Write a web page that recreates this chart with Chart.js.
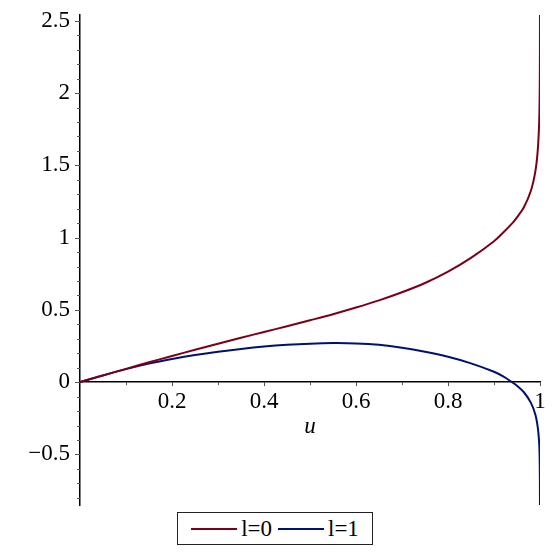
<!DOCTYPE html>
<html><head><meta charset="utf-8">
<script src="https://cdn.jsdelivr.net/npm/chart.js@4/dist/chart.umd.min.js"></script>
<style>
html,body{margin:0;padding:0;background:#fff;}
#wrap{position:relative;width:555px;height:555px;}
#legend{position:absolute;left:177px;top:512px;width:196px;height:33px;box-sizing:border-box;border:1.5px solid #222;display:flex;align-items:center;justify-content:center;font-family:"Liberation Serif","Times New Roman",Times,"DejaVu Serif",serif;font-size:23px;color:#000;background:#fff;}
.item{display:flex;align-items:center;margin:0 3px;}
.swatch{width:46px;height:2px;margin-right:4px;}
</style></head><body>
<div id="wrap"><canvas id="c" width="555" height="555"></canvas><div id="legend"></div></div>
<script>
const u  = [0,0.05,0.1,0.15,0.2,0.25,0.3,0.35,0.4,0.45,0.5,0.55,0.6,0.65,0.7,0.75,0.8,0.85,0.9,0.92,0.94,0.95,0.965,0.98,0.99,0.995,0.998,0.999,0.9995,0.9998,0.99995];
const l0 = [0,0.046,0.092,0.137,0.181,0.224,0.266,0.307,0.347,0.387,0.428,0.47,0.516,0.566,0.622,0.686,0.765,0.86,0.975,1.035,1.1,1.14,1.21,1.322,1.46,1.6,1.78,1.92,2.06,2.25,2.54];
const l1 = [0,0.047,0.09,0.128,0.16,0.188,0.211,0.23,0.246,0.258,0.266,0.27,0.268,0.258,0.238,0.21,0.175,0.13,0.072,0.04,-0.002,-0.025,-0.07,-0.142,-0.225,-0.31,-0.41,-0.49,-0.58,-0.7,-0.85];
const seriesLabels = ['l=0','l=1'];
const seriesColors = ['#7a0016','#00126e'];
const xTicks = [0.2,0.4,0.6,0.8,1];
const yTicks = [-0.5,0,0.5,1,1.5,2,2.5];
const xTitle = 'u';

const FONT = '"Liberation Serif", "Times New Roman", Times, "DejaVu Serif", serif';
const fmt = v => (v < 0 ? '\u2212' : '') + String(Math.abs(v));

const minorTicks = {
  id: 'minorTicks',
  afterDraw(chart) {
    const ctx = chart.ctx, xs = chart.scales.x, ys = chart.scales.y;
    const x0 = xs.getPixelForValue(0), y0 = ys.getPixelForValue(0);
    ctx.save();
    ctx.strokeStyle = '#555';
    ctx.lineWidth = 1;
    for (let i = -8; i <= 25; i++) {
      const py = Math.round(ys.getPixelForValue(i / 10)) + 0.5;
      const len = (i % 5 === 0) ? 5 : 3;
      ctx.beginPath(); ctx.moveTo(x0 - len, py); ctx.lineTo(x0, py); ctx.stroke();
    }
    for (let i = 1; i <= 10; i++) {
      const px = Math.round(xs.getPixelForValue(i / 10)) + 0.5;
      const len = (i % 2 === 0) ? 4 : 3;
      ctx.beginPath(); ctx.moveTo(px, y0); ctx.lineTo(px, y0 + len); ctx.stroke();
    }
    ctx.fillStyle = '#000';
    ctx.font = 'italic 23px ' + FONT;
    ctx.textAlign = 'center';
    ctx.textBaseline = 'middle';
    ctx.fillText(xTitle, xs.getPixelForValue(0.5), y0 + 45);
    ctx.restore();
  }
};

const chart = new Chart(document.getElementById('c'), {
  type: 'line',
  data: {
    datasets: [
      { label: seriesLabels[0], data: u.map((x, i) => ({x, y: l0[i]})), borderColor: seriesColors[0] },
      { label: seriesLabels[1], data: u.map((x, i) => ({x, y: l1[i]})), borderColor: seriesColors[1] }
    ]
  },
  options: {
    responsive: false,
    animation: false,
    devicePixelRatio: 1,
    layout: { padding: { left: 0, right: 15, top: 15, bottom: 50 } },
    elements: {
      point: { radius: 0 },
      line: { borderWidth: 2, tension: 0.35, fill: false }
    },
    plugins: { legend: { display: false }, tooltip: { enabled: false } },
    scales: {
      x: {
        type: 'linear', min: 0, max: 1,
        position: { y: 0 },
        afterFit: s => { s.height = 0; s.paddingLeft = 0; s.paddingRight = 0; },
        afterBuildTicks: s => { s.ticks = xTicks.map(v => ({ value: v })); },
        grid: { drawOnChartArea: false, drawTicks: false },
        border: { display: true, color: '#000', width: 1.5 },
        ticks: { padding: 6, color: '#000', font: { family: FONT, size: 23 }, maxRotation: 0, autoSkip: false, callback: v => fmt(v) }
      },
      y: {
        type: 'linear', min: -0.85, max: 2.54,
        afterFit: s => { s.width = 80; s.paddingTop = 0; s.paddingBottom = 0; },
        afterBuildTicks: s => { s.ticks = yTicks.map(v => ({ value: v })); },
        grid: { drawOnChartArea: false, drawTicks: false },
        border: { display: true, color: '#000', width: 1.5 },
        ticks: { padding: 10, color: '#000', font: { family: FONT, size: 23 }, autoSkip: false, callback: v => fmt(v) }
      }
    }
  },
  plugins: [minorTicks]
});

const leg = document.getElementById('legend');
chart.data.datasets.forEach(ds => {
  const it = document.createElement('div'); it.className = 'item';
  const sw = document.createElement('span'); sw.className = 'swatch'; sw.style.background = ds.borderColor;
  const tx = document.createElement('span'); tx.textContent = ds.label;
  it.appendChild(sw); it.appendChild(tx); leg.appendChild(it);
});
</script>
</body></html>
